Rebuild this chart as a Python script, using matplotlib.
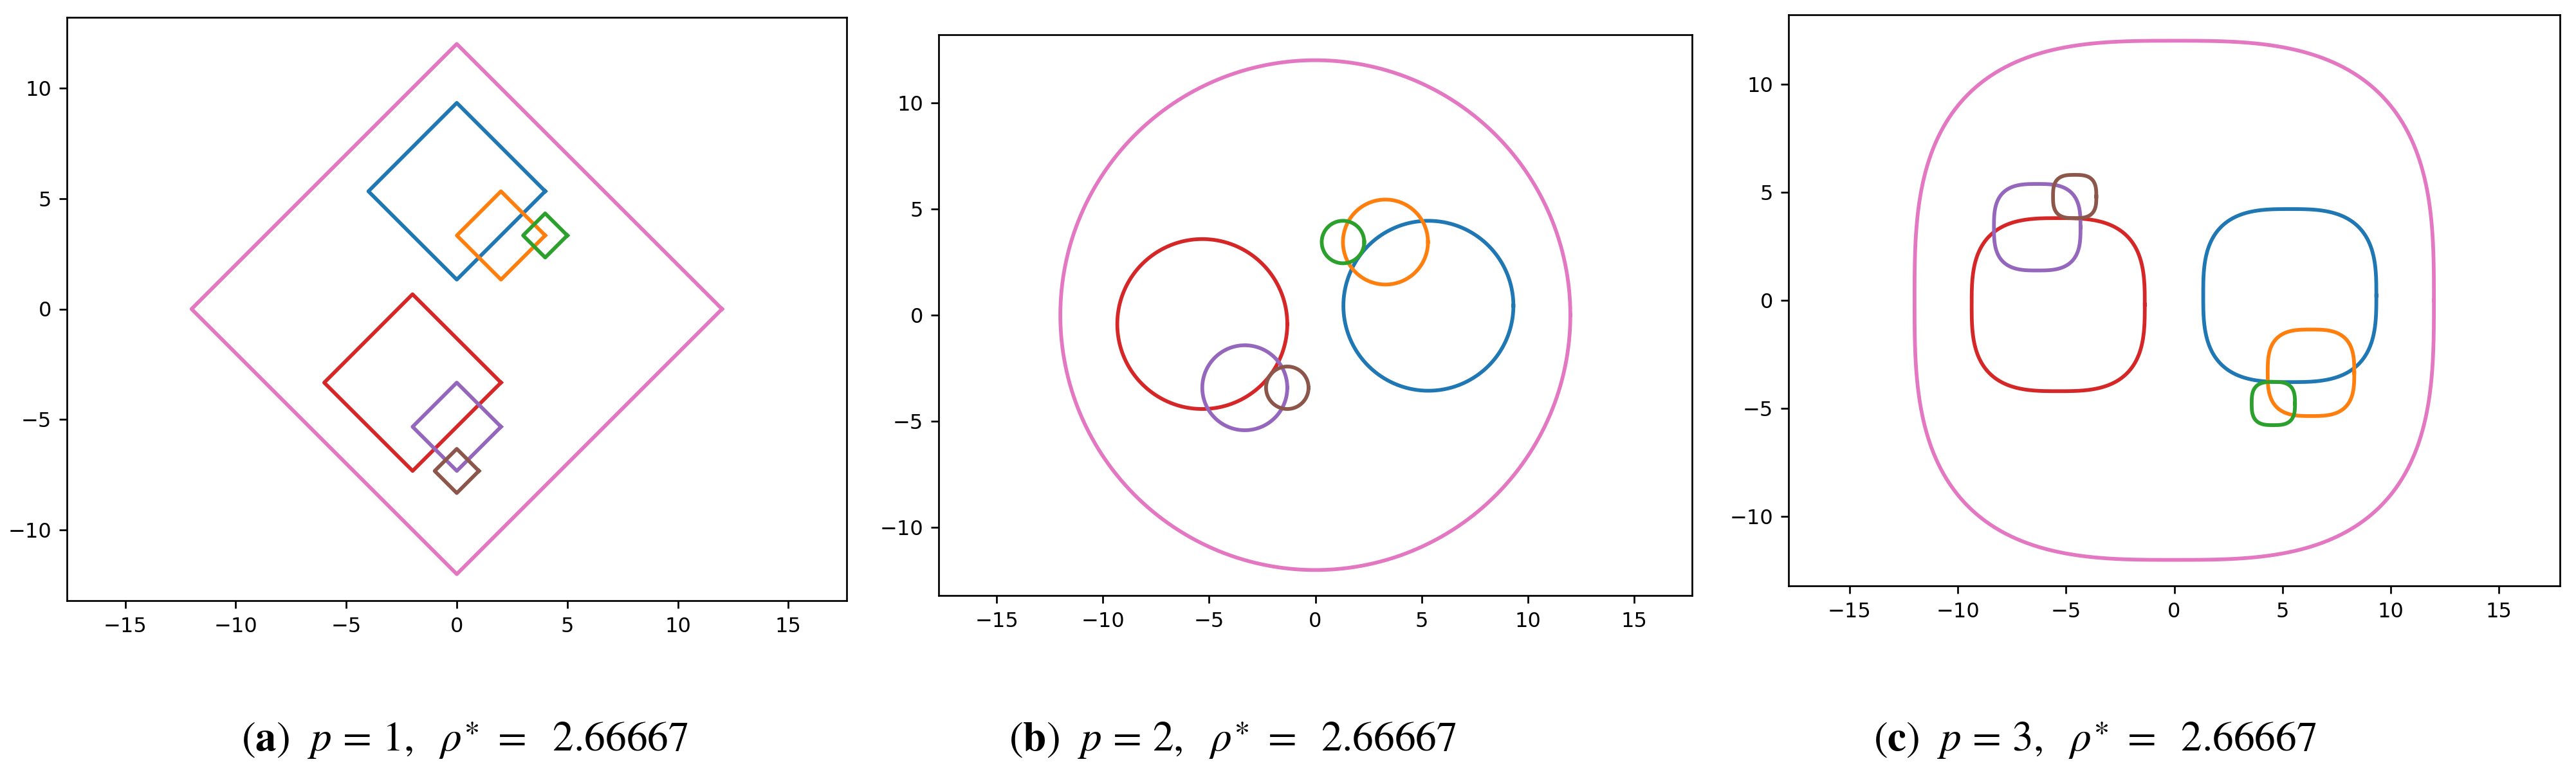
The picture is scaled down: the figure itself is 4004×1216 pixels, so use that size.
import numpy as np
import matplotlib
matplotlib.use("Agg")
import matplotlib.pyplot as plt

# ---- data ----
colors = ["#1f77b4", "#ff7f0e", "#2ca02c", "#d62728", "#9467bd", "#8c564b", "#e377c2"]
radii = [4, 2, 1, 4, 2, 1, 12]

p_values = [1, 2, 3]
rho_star = ["2.66667", "2.66667", "2.66667"]
panel_letters = ["a", "b", "c"]

centers_a_x = [0.0, 2.0, 4.0, -2.0, 0.0, 0.0, 0.0]
centers_a_y = [5.33, 3.33, 3.33, -3.33, -5.33, -7.33, 0.0]

centers_b_x = [5.32, 3.30, 1.30, -5.32, -3.32, -1.32, 0.0]
centers_b_y = [0.44, 3.44, 3.44, -0.42, -3.42, -3.42, 0.0]

centers_c_x = [5.34, 6.32, 4.58, -5.36, -6.33, -4.60, 0.0]
centers_c_y = [0.22, -3.35, -4.77, -0.20, 3.38, 4.80, 0.0]

centers_x = [centers_a_x, centers_b_x, centers_c_x]
centers_y = [centers_a_y, centers_b_y, centers_c_y]

# ---- layout (figure pixels) ----
W, H = 4005, 1216
boxes = [(104, 27, 1316, 934), (1459, 54, 2630, 926), (2780, 23, 3979, 911)]
caption_x = [375, 1568, 2912]
caption_base = 1168

S = 2.45
plt.rcParams.update({
    "font.family": "DejaVu Sans",
    "axes.linewidth": 0.8 * S,
    "xtick.major.width": 0.8 * S,
    "ytick.major.width": 0.8 * S,
    "xtick.major.size": 3.5 * S,
    "ytick.major.size": 3.5 * S,
    "xtick.major.pad": 3.8 * S,
    "ytick.major.pad": 3.5 * S,
    "xtick.labelsize": 23,
    "ytick.labelsize": 23,
    "mathtext.fontset": "stix",
})

fig = plt.figure(figsize=(W / 100, H / 100), dpi=100)

t = np.linspace(0, 2 * np.pi, 2001)

for k, (l, tp, r, b) in enumerate(boxes):
    ax = fig.add_axes([l / W, (H - b) / H, (r - l) / W, (b - tp) / H])
    p = p_values[k]
    c, s = np.cos(t), np.sin(t)
    ux = np.sign(c) * np.abs(c) ** (2.0 / p)
    uy = np.sign(s) * np.abs(s) ** (2.0 / p)
    for i in range(len(radii)):
        ax.plot(centers_x[k][i] + radii[i] * ux,
                centers_y[k][i] + radii[i] * uy,
                color=colors[i], lw=1.7 * S)
    ax.set_ylim(-13.2, 13.2)
    ax.set_xlim(-13.2, 13.2)
    ax.set_aspect("equal", adjustable="datalim")
    ax.set_xticks([-15, -10, -5, 0, 5, 10, 15])
    ax.set_yticks([-10, -5, 0, 5, 10])

    sep = r"\ \ " if k == 0 else r"\ \;"
    txt = (r"$(\mathbf{" + panel_letters[k] + r"})\ \ p\,{=}\,"
           + str(p) + r",\ \ \rho^{\ast}\ {=}" + sep + rho_star[k] + r"$")
    fig.text(caption_x[k] / W, (H - caption_base) / H, txt,
             fontsize=47, ha="left", va="baseline", color="black")

fig.savefig("out.png", dpi=100, facecolor="white")
